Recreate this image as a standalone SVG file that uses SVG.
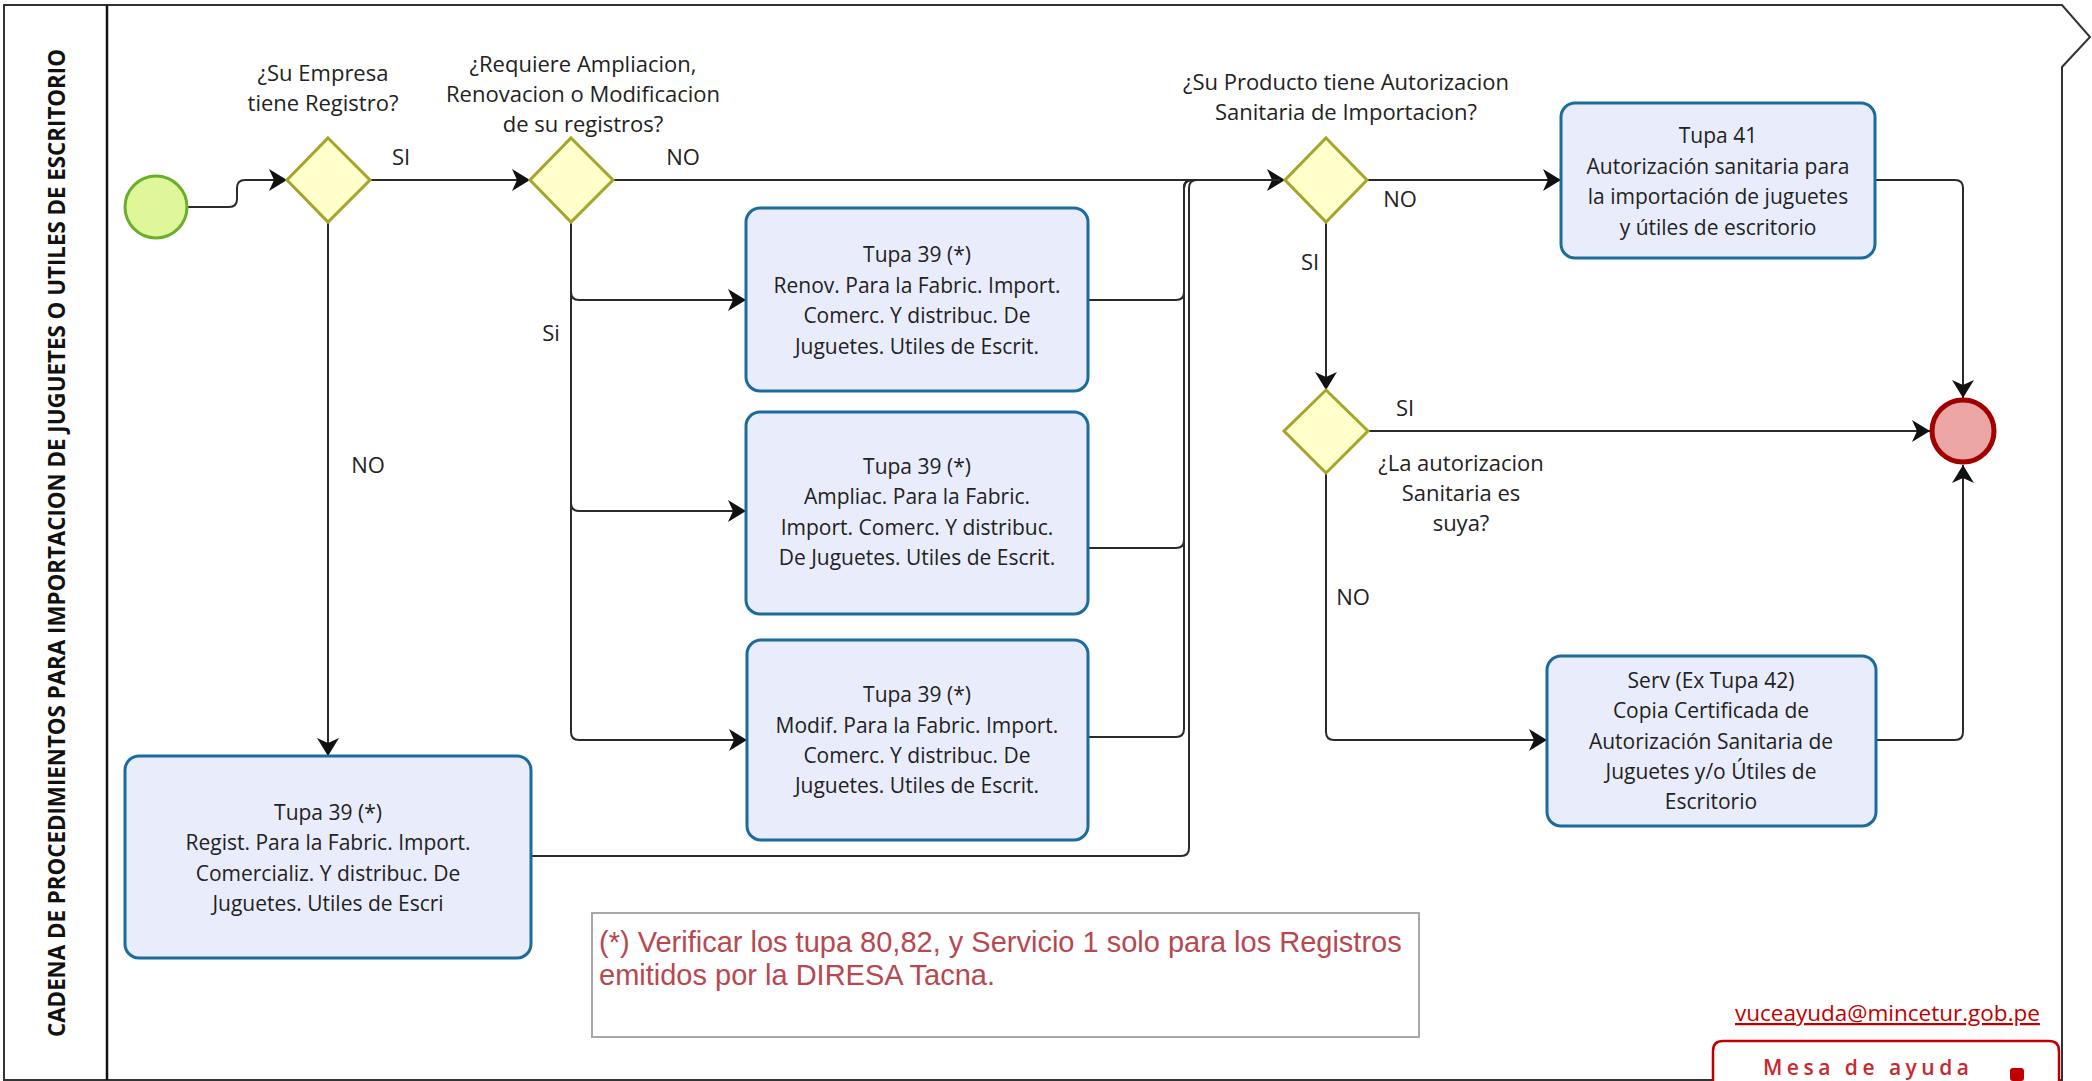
<svg xmlns="http://www.w3.org/2000/svg" width="2092" height="1081" viewBox="0 0 2092 1081">
<defs>
<marker id="arr" markerUnits="userSpaceOnUse" viewBox="0 0 18 22" markerWidth="18" markerHeight="22" refX="18" refY="11" orient="auto">
<path d="M0,0 L18,11 L0,22 L5,11 Z" fill="#111"/>
</marker>
<style>
.lbl{font-family:"Open Sans","Noto Sans",sans-serif;font-size:22px;fill:#222;text-anchor:middle}
.tt{font-family:"Open Sans","Noto Sans",sans-serif;font-size:21px;fill:#222;text-anchor:middle}
.task{fill:#E9EDFB;stroke:#1B6C9C;stroke-width:3}
.gw{fill:#FFFFCC;stroke:#A5A52B;stroke-width:3}
.con{fill:none;stroke:#2a2a2a;stroke-width:2}
.arr{marker-end:url(#arr)}
</style>
</defs>
<rect x="0" y="0" width="2092" height="1081" fill="#ffffff"/>

<g id="pool">
<path d="M4,5 H2062 L2090,37 L2062,67 V1080 H4 Z" fill="none" stroke="#333" stroke-width="2"/>
<line x1="107" y1="5" x2="107" y2="1080" stroke="#111" stroke-width="2.5"/>
<text transform="translate(65,543) rotate(-90)" x="0" y="0" text-anchor="middle" font-family="'Open Sans','Noto Sans',sans-serif" font-weight="700" font-size="22.5" fill="#111" textLength="988" lengthAdjust="spacingAndGlyphs">CADENA DE PROCEDIMIENTOS PARA IMPORTACION DE JUGUETES O UTILES DE ESCRITORIO</text>
</g>

<g id="connectors">
<path class="con arr" d="M188,207 H229 Q237,207 237,199 V188 Q237,180 245,180 H287"/>
<path class="con arr" d="M370,180 H530"/>
<path class="con arr" d="M613,180 H1285"/>
<path class="con arr" d="M328,222 V756"/>
<path class="con arr" d="M571,222 V292 Q571,300 579,300 H746"/>
<path class="con arr" d="M571,222 V503 Q571,511 579,511 H746"/>
<path class="con arr" d="M571,222 V732 Q571,740 579,740 H747"/>
<path class="con" d="M1088,300 H1176 Q1184,300 1184,292 V188 Q1184,180 1192,180 H1280"/>
<path class="con" d="M1088,548 H1176 Q1184,548 1184,540 V188 Q1184,180 1192,180 H1280"/>
<path class="con" d="M1088,737 H1176 Q1184,737 1184,729 V188 Q1184,180 1192,180 H1280"/>
<path class="con" d="M531,856 H1181 Q1189,856 1189,848 V188 Q1189,180 1197,180 H1280"/>
<path class="con arr" d="M1367,180 H1561"/>
<path class="con arr" d="M1875,180 H1955 Q1963,180 1963,188 V398"/>
<path class="con arr" d="M1326,222 V390"/>
<path class="con arr" d="M1368,431 H1930"/>
<path class="con arr" d="M1326,473 V732 Q1326,740 1334,740 H1547"/>
<path class="con arr" d="M1876,740 H1955 Q1963,740 1963,732 V465"/>
<text class="lbl" x="401" y="165">SI</text>
<text class="lbl" x="683" y="165">NO</text>
<text class="lbl" x="368" y="473">NO</text>
<text class="lbl" x="551" y="341">Si</text>
<text class="lbl" x="1400" y="207">NO</text>
<text class="lbl" x="1310" y="270">SI</text>
<text class="lbl" x="1405" y="416">SI</text>
<text class="lbl" x="1353" y="605">NO</text>
</g>

<g id="start">
<circle cx="156" cy="207" r="31" fill="#DFF79A" stroke="#6AAF2A" stroke-width="3"/>
</g>

<g id="gw1">
<polygon class="gw" points="328,138 370,180 328,222 287,180"/>
<text class="lbl"><tspan x="323" y="81">¿Su Empresa</tspan><tspan x="323" y="111">tiene Registro?</tspan></text>
</g>

<g id="gw2">
<polygon class="gw" points="571,138 613,180 571,222 530,180"/>
<text class="lbl"><tspan x="583" y="72">¿Requiere Ampliacion,</tspan><tspan x="583" y="102">Renovacion o Modificacion</tspan><tspan x="583" y="132">de su registros?</tspan></text>
</g>

<g id="gw3">
<polygon class="gw" points="1326,138 1367,180 1326,222 1285,180"/>
<text class="lbl"><tspan x="1346" y="90">¿Su Producto tiene Autorizacion</tspan><tspan x="1346" y="120">Sanitaria de Importacion?</tspan></text>
</g>

<g id="gw4">
<polygon class="gw" points="1326,390 1368,431 1326,473 1284,431"/>
<text class="lbl"><tspan x="1461" y="471">¿La autorizacion</tspan><tspan x="1461" y="501">Sanitaria es</tspan><tspan x="1461" y="531">suya?</tspan></text>
</g>

<g id="end">
<circle cx="1963" cy="431" r="31" fill="#EBA5A5" stroke="#A00000" stroke-width="5"/>
</g>

<g id="task-renov">
<rect class="task" x="746" y="208" width="342" height="183" rx="14"/>
<text class="tt"><tspan x="917" y="262">Tupa 39 (*)</tspan><tspan x="917" y="293">Renov. Para la Fabric. Import.</tspan><tspan x="917" y="323">Comerc. Y distribuc. De</tspan><tspan x="917" y="354">Juguetes. Utiles de Escrit.</tspan></text>
</g>

<g id="task-ampliac">
<rect class="task" x="746" y="412" width="342" height="202" rx="14"/>
<text class="tt"><tspan x="917" y="474">Tupa 39 (*)</tspan><tspan x="917" y="504">Ampliac. Para la Fabric.</tspan><tspan x="917" y="535">Import. Comerc. Y distribuc.</tspan><tspan x="917" y="565">De Juguetes. Utiles de Escrit.</tspan></text>
</g>

<g id="task-modif">
<rect class="task" x="747" y="640" width="341" height="200" rx="14"/>
<text class="tt"><tspan x="917" y="702">Tupa 39 (*)</tspan><tspan x="917" y="733">Modif. Para la Fabric. Import.</tspan><tspan x="917" y="763">Comerc. Y distribuc. De</tspan><tspan x="917" y="793">Juguetes. Utiles de Escrit.</tspan></text>
</g>

<g id="task-regist">
<rect class="task" x="125" y="756" width="406" height="202" rx="14"/>
<text class="tt"><tspan x="328" y="820">Tupa 39 (*)</tspan><tspan x="328" y="850">Regist. Para la Fabric. Import.</tspan><tspan x="328" y="881">Comercializ. Y distribuc. De</tspan><tspan x="328" y="911">Juguetes. Utiles de Escri</tspan></text>
</g>

<g id="task-tupa41">
<rect class="task" x="1561" y="103" width="314" height="155" rx="14"/>
<text class="tt"><tspan x="1718" y="143">Tupa 41</tspan><tspan x="1718" y="174">Autorización sanitaria para</tspan><tspan x="1718" y="204">la importación de juguetes</tspan><tspan x="1718" y="235">y útiles de escritorio</tspan></text>
</g>

<g id="task-serv">
<rect class="task" x="1547" y="656" width="329" height="170" rx="14"/>
<text class="tt"><tspan x="1711" y="688">Serv (Ex Tupa 42)</tspan><tspan x="1711" y="718">Copia Certificada de</tspan><tspan x="1711" y="749">Autorización Sanitaria de</tspan><tspan x="1711" y="779">Juguetes y/o Útiles de</tspan><tspan x="1711" y="809">Escritorio</tspan></text>
</g>

<g id="note">
<rect x="592" y="913" width="827" height="124" fill="#ffffff" stroke="#A8A8A8" stroke-width="2"/>
<text font-family="'Liberation Sans',Arial,sans-serif" font-size="29" fill="#B84850"><tspan x="599" y="952">(*) Verificar los tupa 80,82, y Servicio 1 solo para los Registros</tspan><tspan x="599" y="985">emitidos por la DIRESA Tacna.</tspan></text>
</g>

<g id="help">
<text x="1735" y="1021" font-family="'Open Sans','Noto Sans',sans-serif" font-size="22.5" fill="#C00000" text-decoration="underline">vuceayuda@mincetur.gob.pe</text>
<path d="M1713,1081 V1051 Q1713,1041 1723,1041 H2049 Q2059,1041 2059,1051 V1081" fill="#ffffff" stroke="#C00000" stroke-width="2.5"/>
<text x="1763" y="1075" font-family="'Open Sans','Noto Sans',sans-serif" font-size="21" font-weight="600" letter-spacing="4.5" fill="#C8282E">Mesa de ayuda</text>
<rect x="2010" y="1068" width="14" height="13" rx="3" fill="#C00000"/>
</g>
</svg>
